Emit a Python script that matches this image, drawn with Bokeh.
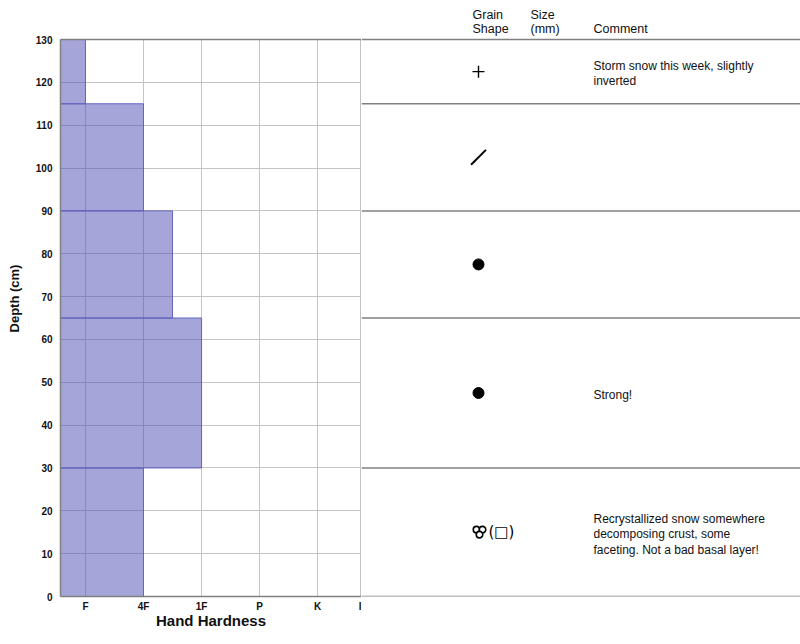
from math import pi
from bokeh.plotting import figure
from bokeh.layouts import row
from bokeh.models import Range1d, FixedTicker, Span
from bokeh.core.properties import value
from bokeh.embed import file_html
from bokeh.resources import INLINE

# snow layers (depth in cm), hand hardness: F=1, 4F=2, 1F=3, P=4, K=5
layer_top = [130, 115, 90, 65, 30]
layer_bottom = [115, 90, 65, 30, 0]
hardness = [1, 2, 2.5, 3, 2]

hardness_ticks = [1, 2, 3, 4, 5, 5.74]
hardness_labels = ["F", "4F", "1F", "P", "K", "I"]
depth_ticks = list(range(0, 131, 10))

# grain type per layer (primary code, secondary shown in brackets)
grain_code = ["PP", "DF", "RG", "RG", "MF"]
grain_secondary = ["", "", "", "", "(\u25a1)"]
comments = [
    "Storm snow this week, slightly\ninverted",
    "",
    "",
    "Strong!",
    "Recrystallized snow somewhere\ndecomposing crust, some\nfaceting. Not a bad basal layer!",
]

FONT = value("Liberation Sans")
depth_max = max(layer_top)
layer_mid = [(t + b) / 2 for t, b in zip(layer_top, layer_bottom)]

# pixel layout
H = 644
BOTTOM = 48
ppu = 557 / depth_max
y_range = Range1d(0, (H - BOTTOM) / ppu)

# ---------- left: hardness profile ----------
p = figure(width=361, height=H, output_backend="svg", toolbar_location=None,
           x_range=Range1d(0.57, 5.755), y_range=y_range,
           min_border_left=60, min_border_right=0, min_border_top=0,
           min_border_bottom=BOTTOM)
p.outline_line_color = None

p.quad(left=0.57, right=hardness, bottom=layer_bottom, top=layer_top,
       fill_color="#4c4cb5", fill_alpha=0.5, line_color="#6565bd", line_width=1)

p.xaxis.ticker = FixedTicker(ticks=hardness_ticks)
p.xaxis.major_label_overrides = {t: l for t, l in zip(hardness_ticks, hardness_labels)}
p.yaxis.ticker = FixedTicker(ticks=depth_ticks)
p.yaxis.bounds = (0, depth_max)
p.xgrid.ticker = FixedTicker(ticks=hardness_ticks)
p.xgrid.cross_bounds = (0, depth_max)
p.ygrid.ticker = FixedTicker(ticks=depth_ticks)
p.grid.grid_line_color = "#c4c4c4"
p.grid.grid_line_width = 1

for ax in (p.xaxis, p.yaxis):
    ax.major_tick_line_color = None
    ax.minor_tick_line_color = None
    ax.axis_line_color = "#808080"
    ax.axis_line_width = 1.5
    ax.major_label_text_font = "Liberation Sans"
    ax.major_label_text_font_style = "bold"
    ax.major_label_text_font_size = "10px"
    ax.major_label_text_color = "#111111"
    ax.axis_label_text_font = "Liberation Sans"
    ax.axis_label_text_font_style = "bold"
    ax.axis_label_text_color = "#111111"

p.xaxis.axis_label = "Hand Hardness"
p.xaxis.axis_label_text_font_size = "15px"
p.xaxis.major_label_standoff = -2
p.xaxis.axis_label_standoff = -3
p.yaxis.axis_label = "Depth (cm)"
p.yaxis.axis_label_text_font_size = "13px"
p.yaxis.major_label_standoff = 2
p.yaxis.axis_label_standoff = 11

p.add_layout(Span(location=depth_max, dimension="width",
                  line_color="#808080", line_width=1.5))

# ---------- right: grain shape / comments ----------
q = figure(width=439, height=H, output_backend="svg", toolbar_location=None,
           x_range=Range1d(0, 439), y_range=y_range,
           min_border_left=0, min_border_right=0, min_border_top=0,
           min_border_bottom=BOTTOM)
q.outline_line_color = None
q.axis.visible = False
q.grid.visible = False

for d in sorted(set(layer_top + layer_bottom)):
    q.add_layout(Span(location=d, dimension="width",
                      line_color="#808080", line_width=1.5))

header_y = depth_max + 17.5 / ppu
q.text(x=[111, 169], y=[header_y] * 2,
       text=["Grain\nShape", "Size\n(mm)"],
       text_font=FONT, text_font_size="12.5px", text_color="#111111",
       text_baseline="middle", text_align="left", text_line_height=1.05)
q.text(x=[232], y=[depth_max + 11 / ppu], text=["Comment"],
       text_font=FONT, text_font_size="12.5px", text_color="#111111",
       text_baseline="middle", text_align="left")

SYM_X = 117
marker_style = {
    "PP": dict(marker="cross", size=12, line_width=1.4, angle=0),
    "DF": dict(marker="dash", size=21, line_width=2, angle=pi / 4),
    "RG": dict(marker="circle", size=11, line_width=1, angle=0),
}
for code, style in marker_style.items():
    ys = [m for m, c in zip(layer_mid, grain_code) if c == code]
    q.scatter(x=[SYM_X] * len(ys), y=ys, fill_color="black",
              line_color="black", **style)

# melt-freeze: three linked rounds
mf = [m for m, c in zip(layer_mid, grain_code) if c == "MF"]
for dx, dy in [(-3, 2.6), (3, 2.6), (0, -2.4)]:
    q.scatter(x=[SYM_X + 1 + dx] * len(mf), y=[m + dy / ppu for m in mf],
              marker="circle", size=6.5, fill_color="white",
              line_color="black", line_width=1.6)

q.text(x=[127] * len(grain_secondary), y=layer_mid, text=grain_secondary,
       text_font=value("DejaVu Sans"), text_font_size="15px",
       text_color="black", text_align="left", text_baseline="middle")

q.text(x=[232] * len(comments), y=layer_mid, text=comments,
       text_font=FONT, text_font_size="12px", text_color="#111111",
       text_align="left", text_baseline="middle", text_line_height=1.1,
       y_offset=2)

layout = row(p, q)
open("out.html", "w").write(file_html(layout, INLINE))
